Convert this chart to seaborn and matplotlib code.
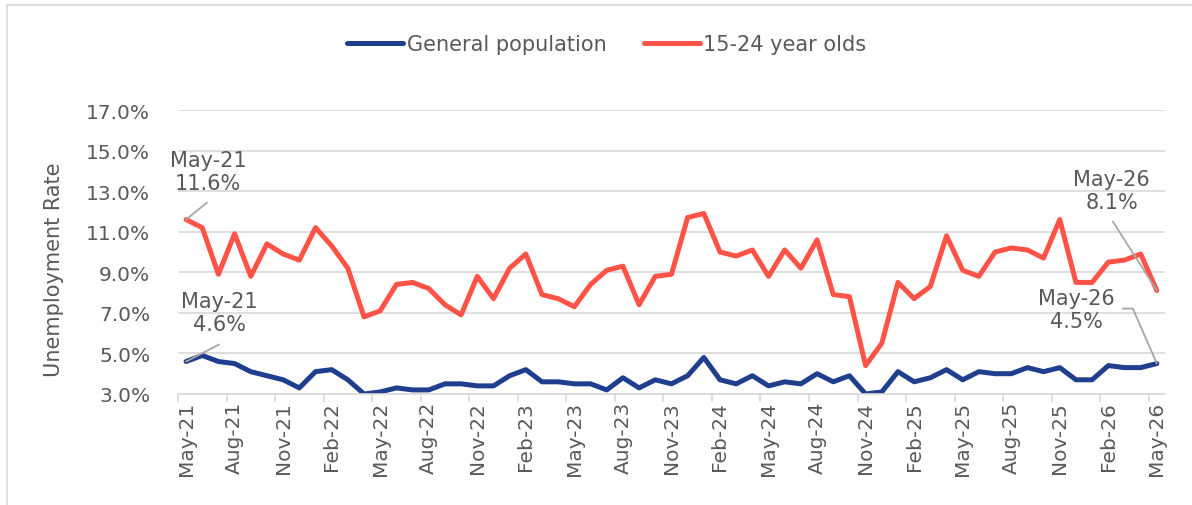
import pandas as pd
import matplotlib
matplotlib.use("Agg")
import matplotlib.pyplot as plt
from matplotlib.lines import Line2D
import seaborn as sns

# monthly unemployment rate, May-21 .. May-26
general = [4.6, 4.9, 4.6, 4.5, 4.1, 3.9, 3.7, 3.3, 4.1, 4.2, 3.7,
           3.0, 3.1, 3.3, 3.2, 3.2, 3.5, 3.5, 3.4, 3.4, 3.9,
           4.2, 3.6, 3.6, 3.5, 3.5, 3.2, 3.8, 3.3, 3.7, 3.5,
           3.9, 4.8, 3.7, 3.5, 3.9, 3.4, 3.6, 3.5, 4.0, 3.6,
           3.9, 3.0, 3.1, 4.1, 3.6, 3.8, 4.2, 3.7, 4.1, 4.0,
           4.0, 4.3, 4.1, 4.3, 3.7, 3.7, 4.4, 4.3, 4.3, 4.5]
youth = [11.6, 11.2, 8.9, 10.9, 8.8, 10.4, 9.9, 9.6, 11.2, 10.3, 9.2,
         6.8, 7.1, 8.4, 8.5, 8.2, 7.4, 6.9, 8.8, 7.7, 9.2,
         9.9, 7.9, 7.7, 7.3, 8.4, 9.1, 9.3, 7.4, 8.8, 8.9,
         11.7, 11.9, 10.0, 9.8, 10.1, 8.8, 10.1, 9.2, 10.6, 7.9,
         7.8, 4.4, 5.5, 8.5, 7.7, 8.3, 10.8, 9.1, 8.8, 10.0,
         10.2, 10.1, 9.7, 11.6, 8.5, 8.5, 9.5, 9.6, 9.9, 8.1]
tick_labels = ["May-21", "Aug-21", "Nov-21", "Feb-22", "May-22", "Aug-22", "Nov-22",
               "Feb-23", "May-23", "Aug-23", "Nov-23", "Feb-24", "May-24", "Aug-24",
               "Nov-24", "Feb-25", "May-25", "Aug-25", "Nov-25", "Feb-26", "May-26"]
series_names = ["General population", "15-24 year olds"]

n = len(general)
df = pd.DataFrame({
    "month": list(range(n)) * 2,
    "rate": general + youth,
    "series": [series_names[0]] * n + [series_names[1]] * n,
})

sns.set_style("white")
plt.rcParams["font.family"] = ["DejaVu Sans"]
grey_txt = "#595959"
grid_c = "#D9D9D9"
colors = {series_names[0]: "#1F3E8E", series_names[1]: "#FF5347"}

fig = plt.figure(figsize=(11.92, 5.06), dpi=100)
ax = fig.add_axes([0.1493, 0.2194, 0.8280, 0.5612])

sns.lineplot(data=df, x="month", y="rate", hue="series", palette=colors,
             linewidth=3.6, ax=ax, solid_joinstyle="round", solid_capstyle="round")

ax.set_xlim(-0.5, n - 0.5)
ax.set_ylim(3, 17)
ax.set_yticks(range(3, 18, 2))
ax.set_yticklabels([f"{v:.1f}%" for v in range(3, 18, 2)])
ax.yaxis.grid(True, color=grid_c, linewidth=1.2)
ax.set_axisbelow(True)
for s in ["left", "right", "top"]:
    ax.spines[s].set_visible(False)
ax.spines["bottom"].set_color(grid_c)
ax.spines["bottom"].set_linewidth(1.2)

ax.set_xticks(range(0, n, 3))
ax.set_xticklabels(tick_labels, rotation=90)
ax.set_xticks([i - 0.5 for i in range(0, n, 3)], minor=True)
ax.tick_params(axis="x", which="major", length=0, pad=5, labelsize=14.5, labelcolor=grey_txt)
ax.tick_params(axis="x", which="minor", length=6, width=1.2, color=grid_c, bottom=True)
ax.tick_params(axis="y", length=0, pad=20, labelsize=14.5, labelcolor=grey_txt)

ax.set_xlabel("")
ax.set_ylabel("Unemployment Rate", fontsize=15, color=grey_txt)
ax.yaxis.set_label_coords(-0.1155, 0.44)

sns.move_legend(ax, "center", bbox_to_anchor=(0.509, 0.911), bbox_transform=fig.transFigure,
                ncol=2, title=None, frameon=False, fontsize=15, handlelength=2.7,
                handletextpad=0.15, columnspacing=1.8)
for t in ax.get_legend().get_texts():
    t.set_color(grey_txt)

# data callouts: (series, index, text offset px, leader points px)
callouts = [
    (youth, 0, (22, 48), [(21, 17), (0, 0)]),
    (general, 0, (33, 49), [(33, 17), (0, 0)]),
    (youth, n - 1, (-45, 100), [(-44, 69), (0, 0)]),
    (general, n - 1, (-80, 54), [(-34, 55), (-24, 55), (0, 0)]),
]
to_fig = fig.transFigure.inverted()
for vals, i, toff, pts in callouts:
    ax.annotate(f"{tick_labels[i // 3]}\n{vals[i]:.1f}%", xy=(i, vals[i]), xytext=toff,
                textcoords="offset pixels", ha="center", va="center", fontsize=15,
                color=grey_txt, multialignment="center")
    px, py = ax.transData.transform((i, vals[i]))
    fx, fy = zip(*[to_fig.transform((px + dx, py + dy)) for dx, dy in pts])
    fig.add_artist(Line2D(fx, fy, color="#A6A6A6", linewidth=1.3, transform=fig.transFigure))

# chart area border
fig.add_artist(Line2D([7 / 1192, 7 / 1192, 1], [0, 1 - 6 / 506, 1 - 6 / 506],
                      color=grid_c, linewidth=1.2, transform=fig.transFigure))

fig.savefig("out.png", dpi=100)
